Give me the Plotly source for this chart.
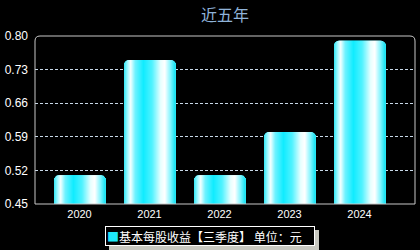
import math
import plotly.graph_objects as go

# ---- data ----
years = ["2020", "2021", "2022", "2023", "2024"]
eps = [0.51, 0.75, 0.51, 0.60, 0.79]
y_ticks = [0.45, 0.52, 0.59, 0.66, 0.73, 0.80]
legend_name = "基本每股收益【三季度】 单位：元"
title_text = "近五年"

# ---- geometry / style ----
W, H = 420, 250
ML, MR, MT, MB = 35, 5, 36, 46
plot_w = W - ML - MR
plot_h = H - MT - MB
y0, y1 = 0.45, 0.80
px_per_y = plot_h / (y1 - y0)
slot_px = 70.0
x_range = [-(79.5 - ML) / slot_px, 0]
x_range[1] = x_range[0] + plot_w / slot_px
bar_px = 51
bw = bar_px / slot_px
radius_px = 5.0
bar_color = "#1ee8f8"

stops = [
    (0.00, (0x30, 0xe6, 0xf6)),
    (0.06, (0x90, 0xf6, 0xff)),
    (0.13, (0xf4, 0xff, 0xff)),
    (0.22, (0x70, 0xf2, 0xff)),
    (0.38, (0x10, 0xec, 0xff)),
    (0.55, (0x50, 0xf2, 0xff)),
    (0.72, (0xe8, 0xff, 0xff)),
    (0.80, (0xff, 0xff, 0xff)),
    (0.90, (0x90, 0xf6, 0xff)),
    (1.00, (0x18, 0xe2, 0xf2)),
]


def grad(t):
    for (ta, ca), (tb, cb) in zip(stops[:-1], stops[1:]):
        if ta <= t <= tb:
            f = (t - ta) / (tb - ta) if tb > ta else 0
            c = [round(a + (b - a) * f) for a, b in zip(ca, cb)]
            return "rgb(%d,%d,%d)" % tuple(c)
    return "rgb(%d,%d,%d)" % stops[-1][1]


xs = list(range(len(years)))
fig = go.Figure()

# base bar
fig.add_trace(go.Bar(
    x=xs, y=eps, width=bw, name=legend_name,
    marker=dict(color=bar_color, line=dict(width=0), cornerradius=radius_px),
    hoverinfo="skip", showlegend=False,
))

# gradient stripes
n = bar_px
sw = bw / n
for k in range(n):
    d = k + 0.5
    dist = min(d, n - d)
    drop = 0.0
    if dist < radius_px:
        drop = radius_px - math.sqrt(radius_px ** 2 - (radius_px - dist) ** 2)
    yv = [v - drop / px_per_y for v in eps]
    fig.add_trace(go.Bar(
        x=xs, y=yv, width=sw * 1.6, offset=-bw / 2 + k * sw,
        marker=dict(color=grad(d / n), line=dict(width=0)),
        hoverinfo="skip", showlegend=False,
    ))

# frame with rounded top corners
rx = radius_px / plot_w
ry = radius_px / plot_h
fig.add_shape(
    type="path", xref="x domain", yref="y domain",
    path=(f"M 0,0 L 0,{1-ry} Q 0,1 {rx},1 L {1-rx},1 Q 1,1 1,{1-ry} "
          f"L 1,0 Z"),
    line=dict(color="#c8c8c8", width=1), layer="above",
)

# legend box (as bordered annotation) + shadow
lx0, lx1, ly0, ly1 = 105, 315, 226, 246
off = 4


def px_x(p):
    return (p - ML) / plot_w


def px_y(p):
    return (H - MB - p) / plot_h


fig.add_shape(
    type="rect", xref="paper", yref="paper",
    x0=px_x(lx0 + off), x1=px_x(lx1 + off),
    y0=px_y(ly1 + off), y1=px_y(ly0 + off),
    fillcolor="#c8c8c0", line=dict(width=0), layer="below",
)
fig.add_annotation(
    xref="paper", yref="paper",
    x=px_x((lx0 + lx1) / 2), y=px_y((ly0 + ly1) / 2),
    xanchor="center", yanchor="middle", align="left", valign="middle",
    text=f"<span style='color:{bar_color}'>■</span>{legend_name}",
    showarrow=False, bgcolor="black", bordercolor="white", borderwidth=1,
    borderpad=1, width=lx1 - lx0 - 4, height=ly1 - ly0 - 4,
    font=dict(family="Noto Sans CJK SC", size=12, color="white"),
)

fig.update_layout(
    width=W, height=H,
    margin=dict(l=ML, r=MR, t=MT, b=MB, autoexpand=False),
    paper_bgcolor="black", plot_bgcolor="black",
    barmode="overlay",
    title=dict(text=title_text, x=0.5, xanchor="center", xref="paper",
               y=1 - 15 / H, yanchor="middle", yref="container",
               font=dict(family="Noto Sans CJK SC", size=16, color="#8fb3d9")),
    font=dict(family="Liberation Sans, Arial", color="white"),
    showlegend=False,
    xaxis=dict(
        range=x_range, tickvals=xs, ticktext=years, showgrid=False,
        zeroline=False, showline=False, ticks="", ticklabelstandoff=2,
        tickfont=dict(size=11, color="white"), fixedrange=True,
    ),
    yaxis=dict(
        range=[y0, y1], tickvals=y_ticks,
        ticktext=["%.2f" % v for v in y_ticks],
        showgrid=True, gridcolor="#c8d8e8", griddash="3px,2px", gridwidth=1,
        zeroline=False, showline=False, ticks="", ticklabelstandoff=6,
        tickfont=dict(size=12, color="white"), fixedrange=True,
    ),
)

fig.write_html("out.html")
